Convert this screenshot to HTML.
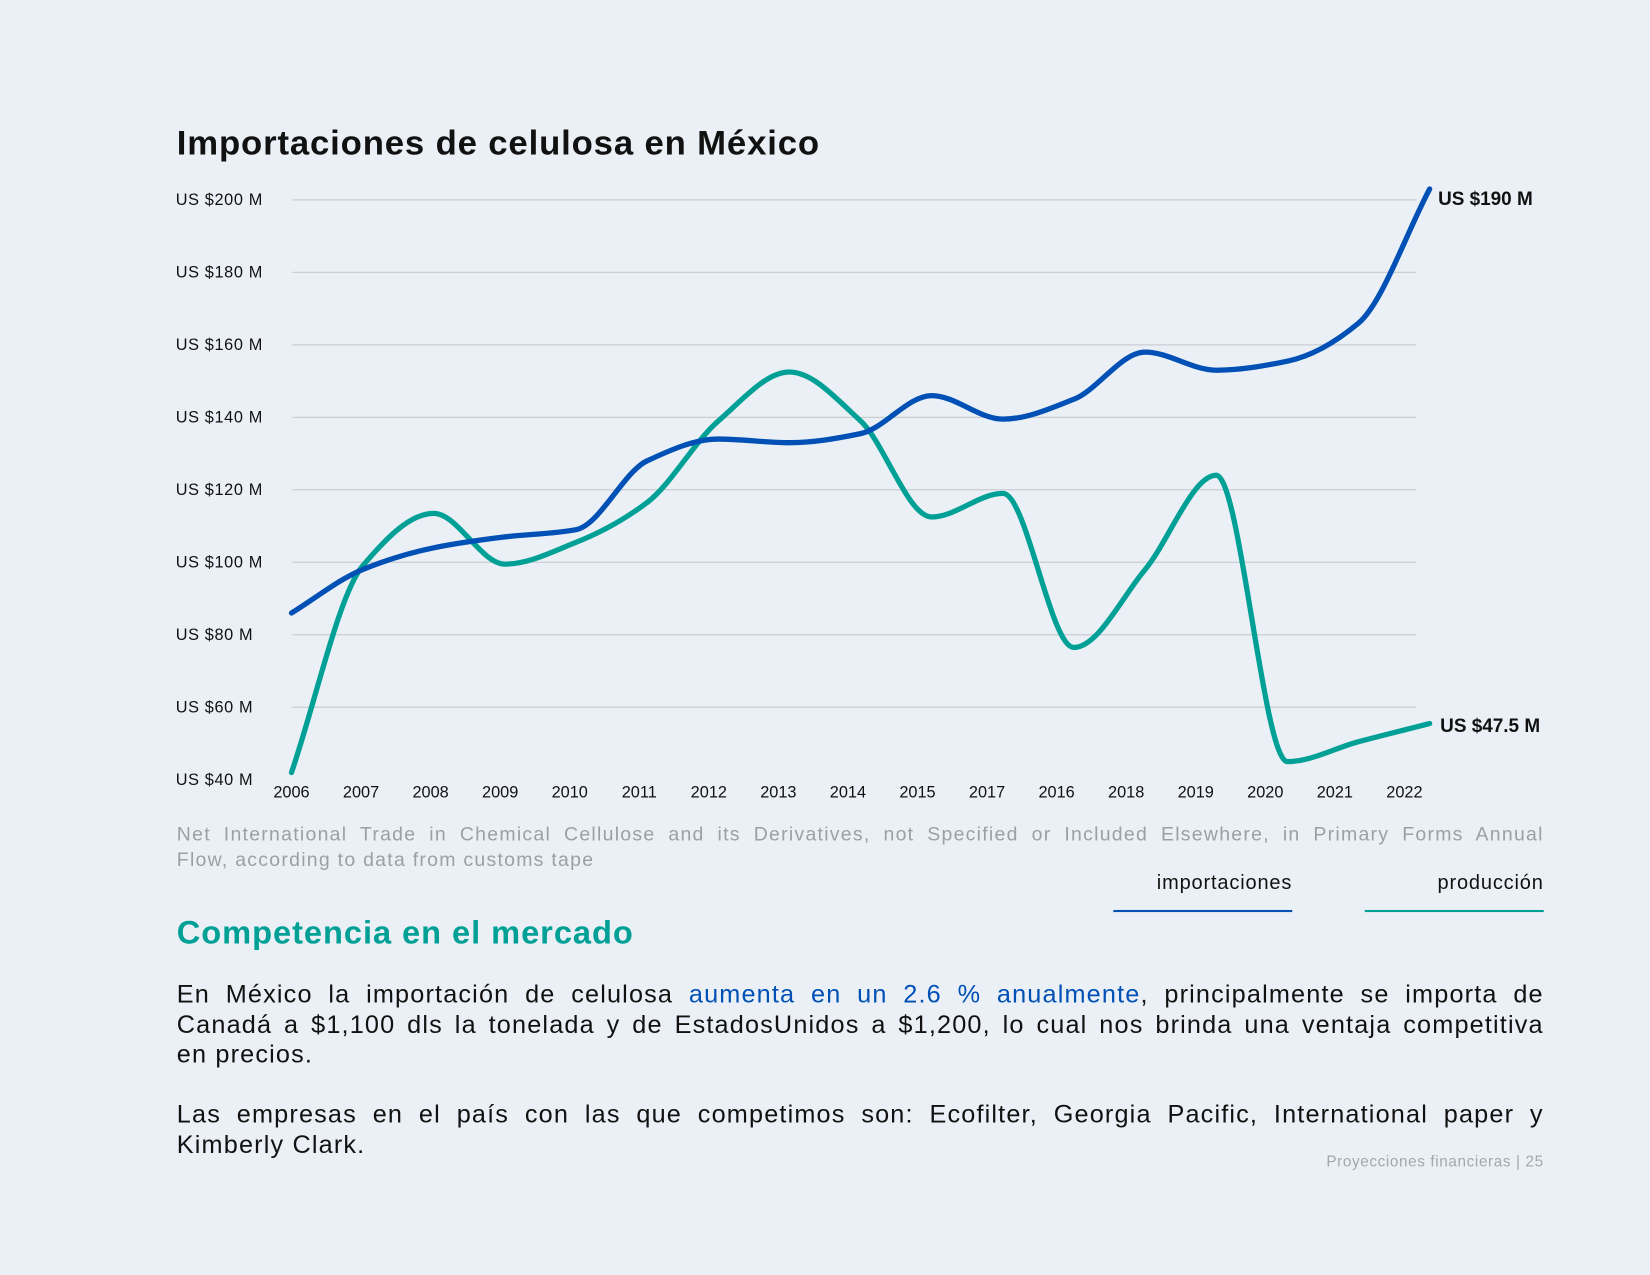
<!DOCTYPE html>
<html><head><meta charset="utf-8">
<style>
html,body{margin:0;padding:0;background:#eaf0f5;overflow:hidden}
#page{position:absolute;left:0;top:0;width:1568px;height:1212px;transform-origin:0 0;transform:scale(1.05230,1.05198);font-family:"Liberation Sans",sans-serif;color:#111}
.t{position:absolute;white-space:nowrap}
.p{position:absolute;left:168px;width:1299px;font-size:24px;line-height:28.5px;letter-spacing:1.1px;color:#111}
.j{text-align:justify;text-align-last:justify;white-space:nowrap}
.l{text-align:left;white-space:nowrap}
</style></head><body>
<div id="page">
<div class="t" style="left:168px;top:117px;font-size:33px;font-weight:bold;letter-spacing:0.8px">Importaciones de celulosa en México</div>
<svg id="chart" width="1568" height="780" style="position:absolute;left:0;top:0"></svg>
<div class="t" style="left:168px;top:781px;width:1299px;font-size:18.5px;line-height:24px;color:#9aa0a6;letter-spacing:1.2px">
<div class="j">Net International Trade in Chemical Cellulose and its Derivatives, not Specified or Included Elsewhere, in Primary Forms Annual</div>
<div class="l">Flow, according to data from customs tape</div>
</div>
<div class="t" style="left:1058px;top:829px;width:170px;text-align:right;font-size:19px;letter-spacing:0.8px">importaciones</div>
<div style="position:absolute;left:1058px;top:865px;width:170px;height:2px;background:#0050b5"></div>
<div class="t" style="left:1297px;top:829px;width:170px;text-align:right;font-size:19px;letter-spacing:0.8px">producción</div>
<div style="position:absolute;left:1297px;top:865px;width:170px;height:2px;background:#00a096"></div>
<div class="t" style="left:168px;top:869px;font-size:31px;font-weight:bold;color:#00a096;letter-spacing:0.9px">Competencia en el mercado</div>
<div class="p" style="top:932px">
<div class="j">En México la importación de celulosa <span style="color:#0050b5">aumenta en un 2.6 % anualmente</span>, principalmente se importa de</div>
<div class="j">Canadá a $1,100 dls la tonelada y de EstadosUnidos a $1,200, lo cual nos brinda una ventaja competitiva</div>
<div class="l">en precios.</div>
</div>
<div class="p" style="top:1046px">
<div class="j">Las empresas en el país con las que competimos son: Ecofilter, Georgia Pacific, International paper y</div>
<div class="l">Kimberly Clark.</div>
</div>
<div class="t" style="left:1117px;width:350px;text-align:right;top:1097px;font-size:14.5px;color:#a3a8ad;letter-spacing:0.6px">Proyecciones financieras | 25</div>
</div>
<script>
const categories=["2006","2007","2008","2009","2010","2011","2012","2013","2014","2015","2017","2016","2018","2019","2020","2021","2022"];
const importaciones=[86,98,104,107,109,128,134,133,135.5,146,139.5,145,158,153,155.5,166,203];
const produccion=[42,99,113.5,99.5,105.5,116.5,139,152.5,139,112.5,119,76.5,98,124,45,50.5,55.5];
const yTicks=[40,60,80,100,120,140,160,180,200];
const yTickLabels=["US $40 M","US $60 M","US $80 M","US $100 M","US $120 M","US $140 M","US $160 M","US $180 M","US $200 M"];
const endLabels=["US $190 M","US $47.5 M"];

const NS="http://www.w3.org/2000/svg";
const svg=document.getElementById('chart');
function xs(i){return 277+i*67.6;}
function ys(v){return 190+(200-v)*3.445;}
function mk(tag,attrs){const e=document.createElementNS(NS,tag);for(const k in attrs)e.setAttribute(k,attrs[k]);svg.appendChild(e);return e;}
yTicks.forEach((v,i)=>{
  if(v>40){const l=mk('line',{x1:278,x2:1346,y1:ys(v),y2:ys(v),stroke:'#c9ced3','stroke-width':1.2});
  
  }
  const t=mk('text',{x:167,y:ys(v)+5,'font-size':15.5,fill:'#111','font-family':'Liberation Sans, sans-serif','letter-spacing':0.6});
  t.textContent=yTickLabels[i];
  
  
});
categories.forEach((c,i)=>{
  const t=mk('text',{x:277+i*66.1,y:758,'font-size':15.5,fill:'#111','text-anchor':'middle','font-family':'Liberation Sans, sans-serif'});
  t.textContent=c;
  
  
});
function pathFor(vals){
  const p=vals.map((v,i)=>[xs(i),ys(v)]);
  const n=p.length;const h=p[1][0]-p[0][0];
  const s=[];for(let i=0;i<n-1;i++)s.push((p[i+1][1]-p[i][1])/h);
  const m=[];
  for(let i=0;i<n;i++){
    if(i===0)m.push(s[0]);else if(i===n-1)m.push(s[n-2]);
    else if(s[i-1]*s[i]<=0)m.push(0);
    else m.push(2/(1/s[i-1]+1/s[i]));
  }
  let d='M'+p[0][0]+','+p[0][1];
  for(let i=0;i<n-1;i++){
    d+=' C'+(p[i][0]+h/3)+','+(p[i][1]+m[i]*h/3)+' '+(p[i+1][0]-h/3)+','+(p[i+1][1]-m[i+1]*h/3)+' '+p[i+1][0]+','+p[i+1][1];
  }
  return d;
}
const g=mk('path',{d:pathFor(produccion),fill:'none',stroke:'#00a096','stroke-width':5,'stroke-linecap':'round'});


const b=mk('path',{d:pathFor(importaciones),fill:'none',stroke:'#0050b5','stroke-width':5,'stroke-linecap':'round'});


const n=categories.length-1;
const e1=mk('text',{x:xs(n)+8,y:ys(importaciones[n])+15,'font-size':18,'font-weight':'bold',fill:'#111','font-family':'Liberation Sans, sans-serif'});
e1.textContent=endLabels[0];


const e2=mk('text',{x:xs(n)+10,y:ys(produccion[n])+8,'font-size':18,'font-weight':'bold',fill:'#111','font-family':'Liberation Sans, sans-serif'});
e2.textContent=endLabels[1];


</script>
</body></html>
